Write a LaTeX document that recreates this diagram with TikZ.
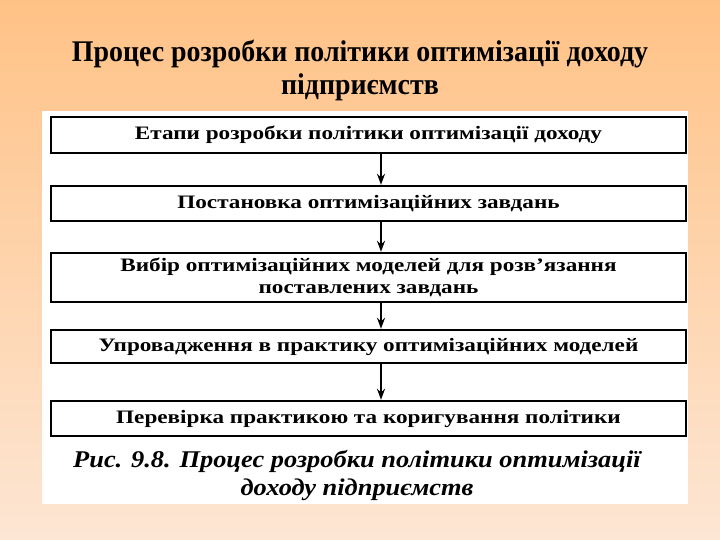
\documentclass[tikz,border=0pt]{standalone}
\usepackage{fontspec}
\setmainfont{Liberation Serif}
\newfontfamily\titlefont{Liberation Serif}[FakeStretch=0.93]
\newfontfamily\boxfont{Liberation Serif}[FakeStretch=1.22]
\newfontfamily\capfont{Liberation Serif}[FakeStretch=1.1]
\usetikzlibrary{arrows.meta}
\definecolor{bgtop}{RGB}{255,194,134}
\definecolor{bgbot}{RGB}{253,230,212}
\tikzset{
  stage/.style={draw=black, line width=2.4pt, fill=white, minimum width=635pt, inner sep=0pt,
    align=center, font=\boxfont\bfseries\fontsize{19}{22}\selectfont},
  flow/.style={draw=black, line width=1.8pt, -{Stealth[length=11pt,width=8pt]}},
}
\begin{document}
\begin{tikzpicture}[x=1pt,y=-1pt]
\useasboundingbox (0,0) rectangle (720,540);
\shade[top color=bgtop, bottom color=bgbot] (0,0) rectangle (720,540);
\node[font=\titlefont\bfseries\fontsize{30}{33}\selectfont, align=center] (title) at (360,70)
  {Процес розробки політики оптимізації доходу\\підприємств};
\fill[white] (42,111) rectangle (688,504);
\coordinate (ax) at (381,0);
\node[stage, minimum height=36pt] (b1) at (368.5,135) {Етапи розробки політики оптимізації доходу};
\node[stage, minimum height=35pt] (b2) at (368.5,203.5) {Постановка оптимізаційних завдань};
\node[stage, minimum height=49pt] (b3) at (368.5,277.5) {Вибір оптимізаційних моделей для розв’язання\\поставлених завдань};
\node[stage, minimum height=33pt] (b4) at (368.5,346.5) {Упровадження в практику оптимізаційних моделей};
\node[stage, minimum height=35pt] (b5) at (368.5,418.5) {Перевірка практикою та коригування політики};
\draw[flow] (b1.south -| ax) -- (b2.north -| ax);
\draw[flow] (b2.south -| ax) -- (b3.north -| ax);
\draw[flow] (b3.south -| ax) -- (b4.north -| ax);
\draw[flow] (b4.south -| ax) -- (b5.north -| ax);
\node[font=\capfont\bfseries\itshape\fontsize{24}{28}\selectfont, align=center] (cap) at (357,475)
  {Рис. 9.8. Процес розробки політики оптимізації\\доходу підприємств};
\end{tikzpicture}
\end{document}
